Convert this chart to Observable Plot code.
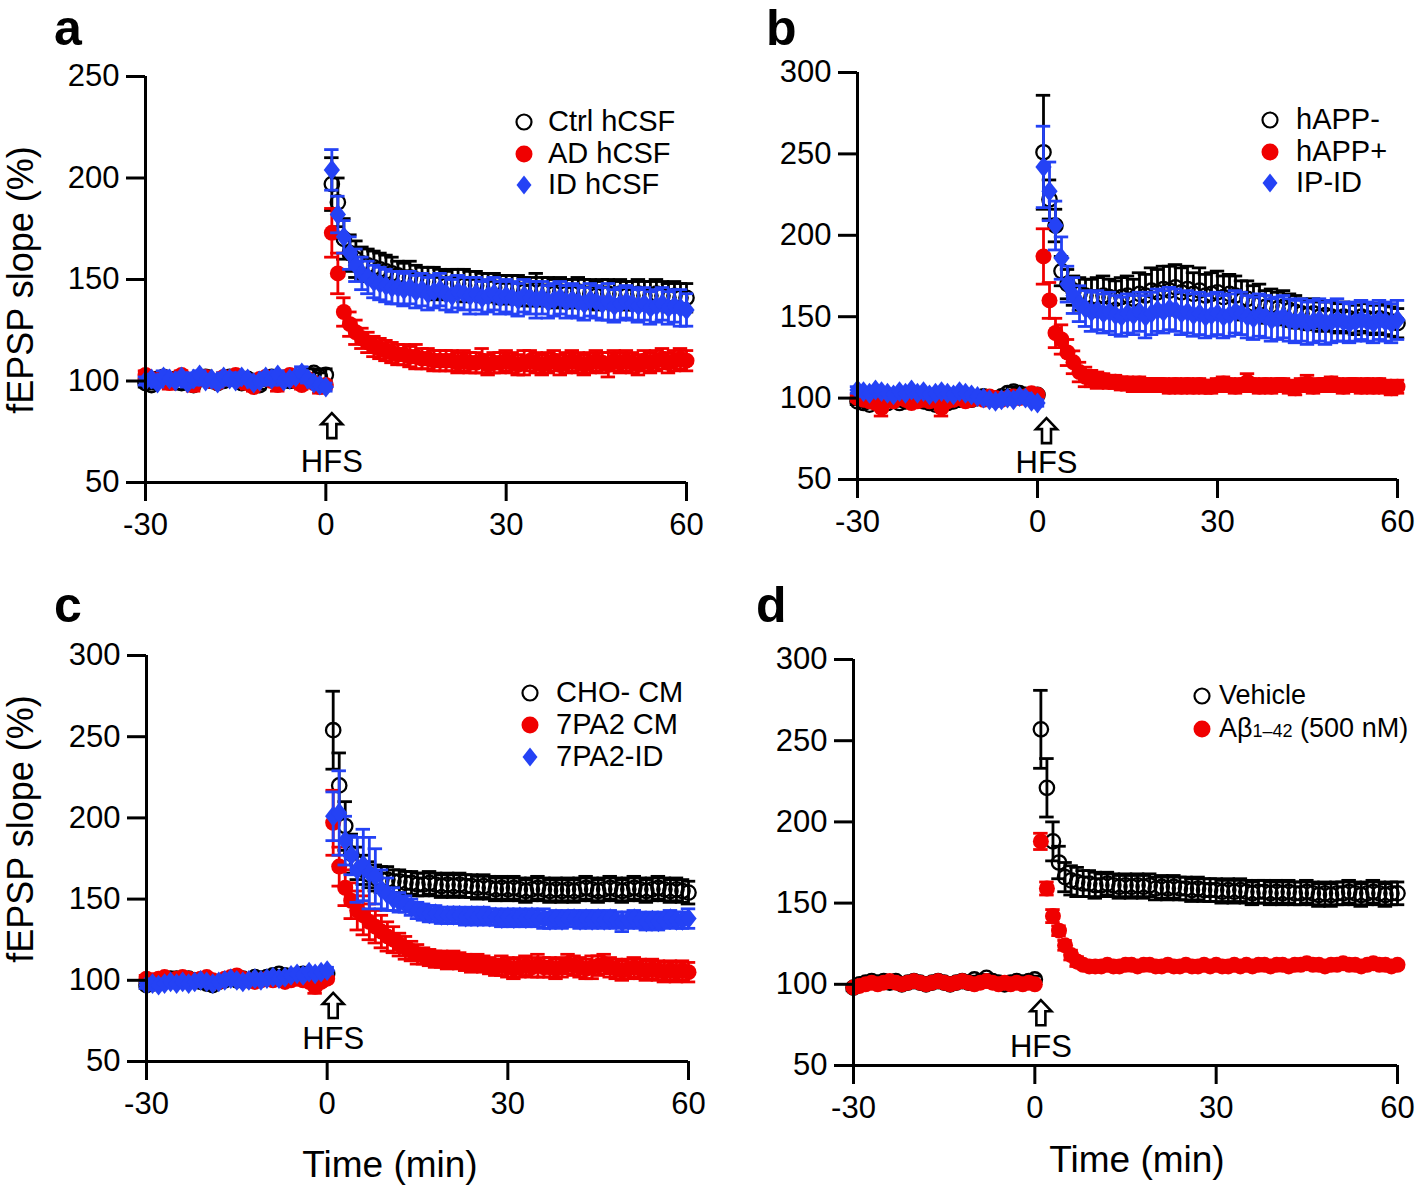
<!DOCTYPE html>
<html><head><meta charset="utf-8">
<script src="https://cdn.jsdelivr.net/npm/d3@7"></script>
<script src="https://cdn.jsdelivr.net/npm/@observablehq/plot@0.6"></script>
<style>
body{margin:0;background:#fff;font-family:"Liberation Sans",Arial,sans-serif;}
#root{position:relative;width:1418px;height:1186px;overflow:hidden;background:#fff}
.pl{position:absolute}
.leg{position:absolute;font-size:29px;line-height:32px;white-space:nowrap;color:#000}
#ov{position:absolute;left:0;top:0;pointer-events:none}
</style></head>
<body><div id="root"></div>
<script>
// time axis: minutes relative to HFS (index 0 -> -30 min, index 90 -> 60 min)
const minutes = d3.range(-30, 61);
const xTicks = [-30, 0, 30, 60];
const yTicksA = [50, 100, 150, 200, 250];
const yTicksB = [50, 100, 150, 200, 250, 300];

// ---------- panel a ----------
const aCtrl = [99,98,101,102,100,101,99,100,98,101,102,100,99,100,102,101,99,101,100,98,101,102,100,101,100,102,101,103,104,102,103,
 197,188,170,163,160,158,157,156,155,154, 153,152,151,151,150,149,149,148,148,147, 148,148,147,147,147,146,146,146,145,145,
 145,145,144,144,145,144,144,143,144,143, 143,144,143,143,142,143,143,142,143,142, 142,143,142,142,143,142,141,142,141,141];
const aCtrlErr = [2,2,3,2,2,2,3,2,2,2,3,2,2,2,2,3,2,2,2,2,3,2,2,2,3,2,2,3,2,2,3,
 13,12,10,9,9,8,8,8,8,8, 8,7,7,8,7,7,7,8,7,7, 7,7,8,7,7,7,7,7,7,7, 7,7,7,7,8,7,7,7,7,7, 7,7,7,7,7,7,7,7,7,7, 7,7,7,7,7,7,7,7,7,7];
const aAD = [103,101,100,102,99,101,103,100,98,101,102,100,99,102,101,103,100,99,97,101,102,100,98,101,103,100,98,101,99,97,98,
 173,153,134,128,124,121,119,117,116,115, 114,113,113,112,112,111,111,110,110,110, 110,109,110,109,109,110,108,109,109,110,
 109,108,109,110,109,108,109,110,108,109, 110,109,108,109,110,109,108,110,109,110, 109,108,110,109,110,111,109,110,111,110];
const aADErr = [2,2,2,2,3,2,2,2,3,2,2,2,2,2,2,2,2,3,2,2,2,2,3,2,2,2,2,2,2,3,2,
 12,10,7,6,6,5,5,5,5,5, 5,5,5,5,6,5,5,5,5,5, 5,5,5,5,5,6,5,5,5,5, 5,5,6,5,5,5,5,5,5,5, 5,5,5,5,5,5,6,5,5,5, 5,5,5,5,5,5,5,5,5,5];
const aID = [100,101,99,102,101,100,102,99,101,103,100,101,99,102,101,100,102,101,99,100,102,101,103,100,101,102,104,101,99,98,97,
 204,182,171,163,157,153,151,149,148,147, 146,146,145,146,144,145,143,144,145,143, 142,144,143,142,143,141,142,143,141,142,
 141,140,142,141,140,141,139,140,141,139, 140,139,138,140,139,138,139,137,138,139, 138,137,138,136,137,138,136,137,136,135];
const aIDErr = [2,2,2,3,2,2,2,2,3,2,2,2,2,2,3,2,2,2,2,2,2,3,2,2,2,2,3,2,2,2,2,
 10,9,8,8,8,8,8,8,8,8, 8,8,8,8,8,8,8,8,8,8, 8,8,8,9,8,8,8,8,8,8, 8,8,8,8,9,8,8,8,8,8, 8,8,8,8,8,8,9,8,8,8, 8,8,8,8,8,8,8,8,9,8];

// ---------- panel b ----------
const bNeg = [98,97,96,99,98,97,99,97,98,100,99,98,97,96,98,97,98,99,100,99,100,101,100,99,101,103,104,103,102,101,102,
 251,222,206,178,170,166,164,163,162,162, 163,162,161,162,163,161,164,163,166,165, 167,166,168,165,167,164,166,163,164,165,
 162,164,163,160,161,158,159,156,157,155, 156,154,153,152,151,152,150,151,150,149, 150,149,148,150,149,148,149,148,147,146];
const bNegErr = [2,2,2,2,2,2,2,2,2,2,2,2,2,2,2,2,2,2,2,2,2,2,2,2,2,2,3,3,2,2,2,
 35,12,10,9,9,9,10,10,11,12, 12,11,11,12,12,12,13,13,14,14, 14,15,14,15,14,13,14,13,13,13,
 13,12,12,12,11,11,11,10,10,10, 10,10,10,9,9,9,9,9,9,9, 9,9,9,9,9,9,9,9,9,9];
const bPos = [100,99,98,97,94,99,98,100,99,97,98,99,98,99,94,98,99,100,98,99,100,99,101,100,99,100,101,100,101,103,102,
 187,160,140,136,128,122,116,113,112,111, 111,110,110,109,109,108,109,108,108,108, 108,107,108,107,108,107,108,107,107,108,
 109,108,107,108,110,108,107,108,107,108, 108,107,106,108,109,107,108,108,109,108, 107,108,108,107,108,107,108,107,106,107];
const bPosErr = [2,2,2,2,5,2,2,2,2,2,2,2,2,2,5,2,2,2,2,2,2,2,2,2,2,2,2,2,2,2,2,
 17,11,9,9,8,7,6,6,5,5, 4,4,4,4,4,4,4,4,4,4, 4,4,4,4,4,4,4,4,4,4, 4,4,4,4,5,4,4,4,4,4, 4,4,4,4,5,4,4,4,4,4, 4,4,4,4,4,4,4,4,4,4];
const bIP = [105,104,103,105,104,103,102,104,103,105,103,104,102,103,104,103,102,104,103,102,101,100,99,98,99,100,99,101,100,98,97,
 242,227,206,186,170,163,158,155,153,154, 152,153,151,150,152,151,153,150,152,154, 153,155,154,152,153,151,152,150,151,152,
 150,151,153,152,150,149,151,150,148,149, 150,148,147,148,146,147,148,146,147,148, 147,146,147,148,147,146,148,147,146,148];
const bIPErr = [2,2,2,2,2,2,2,2,2,2,2,2,2,2,2,2,2,2,2,2,2,2,2,2,2,2,2,2,3,2,2,
 25,18,15,13,11,11,11,11,12,12, 12,12,12,12,12,12,12,13,13,13, 13,13,13,13,13,13,13,13,13,13,
 13,13,13,13,13,13,13,13,13,13, 13,13,13,13,13,13,13,13,13,13, 12,12,12,12,12,12,12,12,12,12];

// ---------- panel c ----------
const cCHO = [97,98,99,100,101,101,100,101,100,99,98,97,99,100,101,100,101,100,102,101,102,103,104,103,102,103,104,103,102,103,104,
 254,220,195,178,172,168,165,163,162,162, 161,161,160,160,159,159,160,159,158,159, 158,159,158,158,157,158,157,156,157,156,
 157,156,155,156,157,156,155,156,155,156, 155,156,157,156,155,156,157,156,155,156, 157,156,155,156,157,156,155,156,155,154];
const cCHOErr = [2,2,2,2,2,2,2,2,2,2,2,2,2,2,2,2,2,2,2,2,2,2,2,2,2,2,2,2,2,2,2,
 24,20,15,12,10,9,8,8,8,8, 7,7,7,7,7,7,7,7,7,7, 7,7,7,7,7,7,7,7,7,7, 7,7,7,7,7,7,7,7,7,7, 7,7,7,7,7,7,7,7,7,7, 7,7,7,7,7,7,7,7,7,7];
const c7PA2 = [101,100,101,102,100,101,102,101,100,101,102,100,99,101,102,103,101,100,99,100,101,100,101,99,100,101,100,99,96,99,101,
 197,170,157,149,143,140,136,133,130,127, 125,122,120,118,116,115,114,113,113,112, 113,112,111,110,111,110,109,108,109,108,
 107,108,109,108,109,108,108,107,108,110, 109,108,107,108,109,110,108,107,106,107, 108,107,106,107,106,105,106,105,106,105];
const c7PA2Err = [2,2,2,2,2,2,2,2,2,2,2,2,2,2,2,2,2,2,2,2,2,2,2,2,2,2,2,2,4,2,2,
 20,12,11,11,12,12,11,10,10,9, 8,7,7,6,6,5,5,5,5,5, 5,5,5,5,5,5,5,5,6,6, 6,6,6,6,7,6,6,6,6,6, 6,6,6,7,6,6,6,6,6,6, 6,6,6,6,6,6,6,6,6,6];
const cID = [97,98,97,98,99,98,99,98,99,100,99,98,99,100,101,100,99,100,101,100,101,102,101,102,103,104,103,105,104,105,106,
 201,203,186,177,168,171,166,164,156,153, 150,148,147,145,143,142,141,141,140,140, 140,140,139,140,139,140,139,139,138,139,
 138,139,138,139,138,138,137,138,137,138, 138,137,138,137,138,137,138,137,136,137, 138,137,136,137,136,137,138,137,137,138];
const cIDErr = [2,2,2,2,2,2,2,2,2,2,2,2,2,2,2,2,2,2,2,2,2,2,2,2,2,2,2,2,2,2,2,
 15,26,15,12,20,22,22,17,12,10, 7,6,5,5,5,5,5,5,5,5, 5,5,5,5,5,5,5,5,5,5, 5,5,5,5,5,6,5,5,5,5, 5,5,5,5,5,5,5,5,6,5, 5,5,5,5,5,5,5,5,5,6];

// ---------- panel d ----------
const dVeh = [98,100,101,102,101,102,101,102,100,101,102,101,100,101,102,101,100,101,102,101,103,102,104,102,101,100,101,102,101,102,103,
 257,221,188,175,166,164,163,162,162,161, 161,162,161,160,161,160,161,160,161,159, 160,159,160,159,159,158,159,158,158,158,
 157,158,157,158,157,156,157,157,156,157, 156,157,156,156,157,156,155,156,155,156, 156,157,156,155,156,157,156,155,156,156];
const dVehErr = [2,2,2,2,2,2,2,2,2,2,2,2,2,2,2,2,2,2,2,2,2,2,2,2,2,2,2,2,2,2,2,
 24,18,12,10,9,9,9,8,8,8, 7,7,7,7,7,7,7,7,7,7, 7,7,7,7,7,7,7,7,7,7, 7,7,7,7,7,7,7,7,7,7, 7,7,7,7,7,7,7,7,7,7, 7,7,7,7,7,7,7,7,7,7];
const dAb = [98,99,100,101,100,101,102,101,100,101,102,101,100,101,102,101,100,101,102,101,100,101,102,101,100,101,100,101,100,101,100,
 188,159,142,133,124,118,114,112,111,111, 111,112,111,111,112,112,111,112,112,111, 111,112,111,111,112,111,111,112,111,112,
 111,111,112,111,112,111,112,112,111,112, 112,111,112,112,113,112,112,111,112,112, 113,112,112,111,112,113,112,112,111,112];
const dAbErr = [1,1,1,1,1,1,1,1,1,1,1,1,1,1,1,1,1,1,1,1,1,1,1,1,1,1,1,1,1,1,1,
 5,4,4,3,3,3,3,2,2,2, 2,2,2,2,2,2,2,2,2,2, 2,2,2,2,2,2,2,2,2,2, 2,2,2,2,2,2,2,2,2,2, 2,2,2,2,2,2,2,2,2,2, 2,2,2,2,2,2,2,2,2,2];

// legends
const legendA = ["Ctrl hCSF", "AD hCSF", "ID hCSF"];
const legendB = ["hAPP-", "hAPP+", "IP-ID"];
const legendC = ["CHO- CM", "7PA2 CM", "7PA2-ID"];
const legendD = ["Vehicle", "Aβ<span style='font-size:18px'>1–42</span> (500 nM)"];

// HFS marker: stimulation time and label levels (y units)
const hfsTime = [1, 1.5, 1, 1];
const hfsArrowLevel = [78, 80, 84.5, 82.5];
const hfsLabelLevel = [60, 60, 64, 61.5];

// ---------- styles ----------
const BLACK = "#000", RED = "#f00000", BLUE = "#2442f5";
const diamond = {draw(ctx, size){ const h = Math.sqrt(size/1.5), w = 0.78*h; ctx.moveTo(0,-h); ctx.lineTo(w,0); ctx.lineTo(0,h); ctx.lineTo(-w,0); ctx.closePath(); }};
// hollow up-arrow glyph (fixed geometry)
const upArrow = {draw(ctx){ ctx.moveTo(0,-12.5); ctx.lineTo(10.5,-1.5); ctx.lineTo(4.5,-1.5); ctx.lineTo(4.5,12.5); ctx.lineTo(-4.5,12.5); ctx.lineTo(-4.5,-1.5); ctx.lineTo(-10.5,-1.5); ctx.closePath(); }};
const styles = {
  open: {color: BLACK, dot: {r: 7.2, fill: "none", stroke: BLACK, strokeWidth: 2.3}},
  red: {color: RED, dot: {r: 8, fill: RED, stroke: "none"}},
  blue: {color: BLUE, dot: {r: 7.2, fill: BLUE, stroke: "none", symbol: diamond}}
};
const rows = (vals, errs) => minutes.map((t, i) => ({t, v: vals[i], e: errs[i]}));

const panels = [
  {x0: 145, x1: 686, yTop: 76, yBot: 482, yDomain: [50, 250], yTicks: yTicksA,
   series: [[aCtrl, aCtrlErr, "open"], [aAD, aADErr, "red"], [aID, aIDErr, "blue"]],
   legend: legendA, leg: {x: 524, y: 122, tx: 548, dy: 31.5, fs: 29}},
  {x0: 857, x1: 1397, yTop: 72, yBot: 479, yDomain: [50, 300], yTicks: yTicksB,
   series: [[bNeg, bNegErr, "open"], [bPos, bPosErr, "red"], [bIP, bIPErr, "blue"]],
   legend: legendB, leg: {x: 1270, y: 120, tx: 1296, dy: 31.5, fs: 29}},
  {x0: 146, x1: 688, yTop: 655, yBot: 1061, yDomain: [50, 300], yTicks: yTicksB,
   series: [[cCHO, cCHOErr, "open"], [c7PA2, c7PA2Err, "red"], [cID, cIDErr, "blue"]],
   legend: legendC, leg: {x: 530, y: 693, tx: 556, dy: 32, fs: 29}},
  {x0: 853, x1: 1397, yTop: 659, yBot: 1065, yDomain: [50, 300], yTicks: yTicksB,
   series: [[dVeh, dVehErr, "open"], [dAb, dAbErr, "red"]],
   legend: legendD, leg: {x: 1202, y: 696, tx: 1219, dy: 33, fs: 27}}
];

const root = document.getElementById("root");
const FONT = "'Liberation Sans', Arial, sans-serif";

panels.forEach((p, k) => {
  const left = p.x0 - 120, top = p.yTop - 40;
  const width = Math.min(1418 - left, p.x1 - left + 40);
  const height = p.yBot - top + 80;
  const marks = [];
  for (const [vals, errs, key] of p.series) {
    const s = styles[key];
    const data = rows(vals, errs);
    const sw = 2.8;
    marks.push(Plot.ruleX(data, {x: "t", y1: d => d.v - d.e, y2: d => d.v + d.e, stroke: s.color, strokeWidth: sw}));
    marks.push(Plot.ruleY(data, {y: d => d.v + d.e, x1: d => d.t - 1.2, x2: d => d.t + 1.2, stroke: s.color, strokeWidth: sw}));
    marks.push(Plot.ruleY(data, {y: d => d.v - d.e, x1: d => d.t - 1.2, x2: d => d.t + 1.2, stroke: s.color, strokeWidth: sw}));
    marks.push(Plot.dot(data, {x: "t", y: "v", ...s.dot}));
  }
  const hfs = [{t: hfsTime[k], a: hfsArrowLevel[k], l: hfsLabelLevel[k]}];
  marks.push(Plot.dot(hfs, {x: "t", y: "a", symbol: upArrow, r: 10, fill: "white", stroke: BLACK, strokeWidth: 2.6}));
  marks.push(Plot.text(hfs, {x: "t", y: "l", text: () => "HFS", fontSize: 31, fontFamily: FONT, fill: BLACK}));
  marks.push(Plot.ruleX([-30], {strokeWidth: 3, stroke: BLACK}));
  marks.push(Plot.ruleY([p.yDomain[0]], {strokeWidth: 3, stroke: BLACK}));
  marks.push(Plot.axisY({ticks: p.yTicks, tickSize: 19, tickPadding: 7, strokeWidth: 3, fontSize: 31, tickFormat: d => String(d), label: null}));
  marks.push(Plot.axisX({ticks: xTicks, tickSize: 19, tickPadding: 11, strokeWidth: 3, fontSize: 31, tickFormat: d => String(d), label: null}));
  const svg = Plot.plot({
    width, height,
    marginLeft: p.x0 - left, marginRight: left + width - p.x1,
    marginTop: p.yTop - top, marginBottom: top + height - p.yBot,
    x: {domain: [-30, 60]}, y: {domain: p.yDomain},
    style: {fontFamily: FONT, fontSize: "31px", background: "transparent", overflow: "visible", color: "#000"},
    marks
  });
  const wrap = document.createElement("div");
  wrap.className = "pl";
  wrap.style.left = left + "px"; wrap.style.top = top + "px";
  wrap.appendChild(svg);
  root.appendChild(wrap);

  // legend
  const keys = p.series.map(s => s[2]);
  p.legend.forEach((name, i) => {
    const cy = p.leg.y + i * p.leg.dy;
    const sym = document.createElementNS("http://www.w3.org/2000/svg", "svg");
    sym.setAttribute("width", 24); sym.setAttribute("height", 24);
    sym.style.position = "absolute"; sym.style.left = (p.leg.x - 12) + "px"; sym.style.top = (cy - 12) + "px";
    const key = keys[i];
    if (key === "open") sym.innerHTML = `<circle cx="12" cy="12" r="7.5" fill="none" stroke="#000" stroke-width="2.2"/>`;
    else if (key === "red") sym.innerHTML = `<circle cx="12" cy="12" r="8.5" fill="${RED}"/>`;
    else sym.innerHTML = `<path d="M12,2.5 L19.5,12 L12,21.5 L4.5,12 Z" fill="${BLUE}"/>`;
    root.appendChild(sym);
    const t = document.createElement("div");
    t.className = "leg";
    t.style.fontSize = p.leg.fs + "px";
    t.style.left = p.leg.tx + "px"; t.style.top = (cy - 17) + "px";
    t.innerHTML = name;
    root.appendChild(t);
  });
});

// overlay text: panel letters and axis titles
const ov = document.createElementNS("http://www.w3.org/2000/svg", "svg");
ov.setAttribute("id", "ov"); ov.setAttribute("width", 1418); ov.setAttribute("height", 1186);
ov.innerHTML = `
 <g font-family="${FONT}" font-weight="bold" font-size="50" fill="#000">
  <text x="54" y="45">a</text><text x="766" y="45">b</text>
  <text x="54" y="622">c</text><text x="756" y="622">d</text>
 </g>
 <g font-family="${FONT}" font-size="36" fill="#000" text-anchor="middle">
  <text transform="translate(33,280) rotate(-90)">fEPSP slope (%)</text>
  <text transform="translate(33,829) rotate(-90)">fEPSP slope (%)</text>
 </g>
 <g font-family="${FONT}" font-size="37" fill="#000" text-anchor="middle">
  <text x="390" y="1177">Time (min)</text>
  <text x="1137" y="1172">Time (min)</text>
 </g>`;
root.appendChild(ov);
</script>
</body></html>
